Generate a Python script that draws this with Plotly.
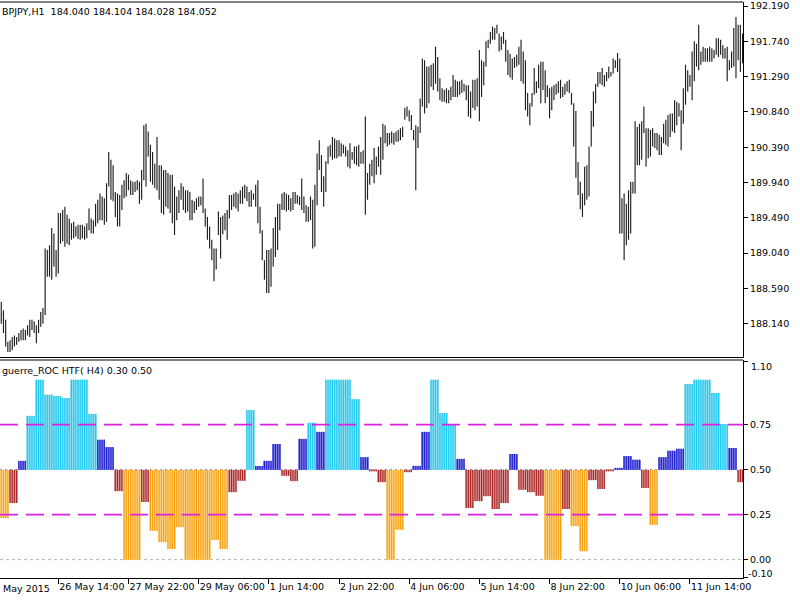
import plotly.graph_objects as go

# ---------------- data ----------------
# GBPJPY H1 bars, index 0 = 25 May 2015 12:00
high = [
    188.42, 188.31, 188.19, 187.91, 187.93, 187.97, 187.99, 187.97, 188.02, 188.06,
    188.08, 188.06, 188.12, 188.19, 188.19, 188.17, 188.12, 188.19, 188.29, 188.34,
    189.10, 189.08, 189.14, 189.36, 189.29, 189.08, 189.55, 189.55, 189.59, 189.63,
    189.53, 189.48, 189.42, 189.44, 189.38, 189.40, 189.40, 189.40, 189.38, 189.42,
    189.61, 189.48, 189.46, 189.67, 189.72, 189.80, 189.76, 189.74, 189.93, 190.33,
    190.23, 190.16, 189.82, 189.80, 189.78, 189.91, 189.97, 190.06, 190.04, 189.97,
    189.95, 189.95, 189.97, 189.95, 190.10, 190.67, 190.69, 190.59, 190.42, 190.33,
    190.18, 190.52, 190.16, 190.16, 190.10, 190.10, 190.06, 190.04, 190.04, 189.89,
    189.76, 189.84, 189.93, 189.89, 189.84, 189.84, 189.82, 189.72, 189.70, 189.74,
    189.76, 189.76, 189.99, 189.61, 189.50, 189.38, 189.21, 189.10, 189.10, 189.57,
    189.50, 189.52, 189.55, 189.59, 189.78, 189.78, 189.80, 189.82, 189.80, 189.84,
    189.89, 189.91, 189.89, 189.82, 189.84, 189.80, 189.91, 189.97, 189.63, 189.33,
    188.95, 189.08, 189.08, 189.10, 189.36, 189.50, 189.67, 189.67, 189.80, 189.82,
    189.80, 189.78, 189.74, 189.82, 189.82, 189.78, 189.76, 189.99, 189.76, 189.65,
    189.63, 189.76, 189.72, 189.91, 190.31, 190.48, 190.29, 190.02, 190.21, 190.40,
    190.42, 190.52, 190.50, 190.48, 190.48, 190.44, 190.42, 190.40, 190.35, 190.44,
    190.33, 190.40, 190.40, 190.42, 190.33, 190.35, 190.78, 190.06, 190.18, 190.23,
    190.38, 190.27, 190.40, 190.52, 190.69, 190.67, 190.57, 190.57, 190.59, 190.57,
    190.59, 190.61, 190.63, 190.65, 190.89, 190.91, 190.86, 190.80, 190.61, 190.67,
    190.65, 191.01, 191.52, 191.50, 191.42, 191.42, 191.44, 191.46, 191.67, 191.54,
    191.27, 191.14, 191.12, 191.14, 191.12, 191.16, 191.31, 191.25, 191.23, 191.23,
    191.25, 191.20, 191.18, 191.18, 191.10, 191.25, 191.25, 191.27, 191.63, 191.50,
    191.48, 191.74, 191.76, 191.86, 191.93, 191.91, 191.95, 191.84, 191.80, 191.86,
    191.76, 191.63, 191.58, 191.52, 191.54, 191.57, 191.67, 191.76, 191.61, 191.50,
    191.08, 190.95, 191.08, 191.40, 191.23, 191.44, 191.48, 191.48, 191.37, 191.18,
    191.14, 191.16, 191.18, 191.20, 191.23, 191.25, 191.16, 191.20, 191.23, 191.25,
    191.08, 190.95, 190.85, 190.20, 189.95, 189.80, 190.14, 190.16, 190.40, 190.85,
    191.10, 191.20, 191.35, 191.35, 191.40, 191.31, 191.35, 191.42, 191.35, 191.52,
    191.50, 191.59, 191.52, 189.74, 189.80, 189.67, 189.84, 189.95, 189.95, 190.72,
    190.65, 190.69, 190.72, 190.91, 190.63, 190.63, 190.61, 190.63, 190.57, 190.57,
    190.55, 190.52, 190.69, 190.74, 190.80, 190.82, 190.82, 190.99, 190.97, 190.95,
    190.86, 191.14, 191.44, 191.37, 191.31, 191.61, 191.74, 191.71, 191.95, 191.61,
    191.67, 191.65, 191.65, 191.67, 191.65, 191.63, 191.78, 191.78, 191.76, 191.69,
    191.65, 191.67, 191.50, 191.61, 191.91, 192.05, 191.95, 191.95, 191.84,
]
low = [
    188.14, 188.02, 187.85, 187.78, 187.78, 187.80, 187.85, 187.87, 187.91, 187.93,
    187.93, 187.93, 187.99, 187.97, 188.06, 188.02, 187.89, 188.02, 188.10, 188.14,
    188.25, 188.74, 188.74, 188.70, 188.87, 188.74, 188.78, 189.16, 189.19, 189.12,
    189.16, 189.14, 189.21, 189.23, 189.25, 189.22, 189.21, 189.23, 189.21, 189.23,
    189.33, 189.29, 189.29, 189.38, 189.42, 189.46, 189.46, 189.40, 189.44, 189.89,
    189.72, 189.70, 189.50, 189.38, 189.38, 189.59, 189.74, 189.76, 189.84, 189.78,
    189.78, 189.82, 189.84, 189.67, 189.72, 189.97, 189.89, 190.27, 189.95, 189.91,
    189.87, 189.84, 189.72, 189.55, 189.53, 189.63, 189.61, 189.55, 189.42, 189.27,
    189.46, 189.55, 189.72, 189.59, 189.55, 189.57, 189.46, 189.46, 189.55, 189.59,
    189.63, 189.65, 189.55, 189.38, 189.21, 189.10, 188.95, 188.68, 188.83, 189.27,
    188.97, 189.28, 189.33, 189.21, 189.48, 189.59, 189.63, 189.61, 189.57, 189.67,
    189.67, 189.74, 189.70, 189.63, 189.63, 189.72, 189.63, 189.42, 189.29, 188.95,
    188.70, 188.53, 188.53, 188.61, 188.87, 188.99, 189.08, 189.33, 189.59, 189.59,
    189.57, 189.59, 189.57, 189.59, 189.67, 189.67, 189.65, 189.59, 189.55, 189.44,
    189.44, 189.46, 189.10, 189.12, 189.65, 190.10, 189.82, 189.63, 189.82, 190.18,
    190.27, 190.23, 190.25, 190.25, 190.27, 190.27, 190.31, 190.27, 190.14, 190.12,
    190.23, 190.18, 190.16, 190.14, 190.18, 190.18, 189.53, 189.72, 189.91, 190.02,
    189.93, 190.04, 190.14, 190.04, 190.23, 190.44, 190.40, 190.42, 190.44, 190.42,
    190.46, 190.46, 190.48, 190.52, 190.74, 190.78, 190.72, 190.61, 190.48, 189.84,
    190.38, 190.57, 190.91, 190.82, 190.89, 190.95, 191.16, 191.12, 191.20, 191.10,
    190.99, 190.97, 190.97, 190.95, 190.95, 190.99, 191.03, 191.03, 191.03, 191.06,
    191.08, 191.10, 190.99, 190.78, 190.76, 190.89, 190.86, 190.91, 190.72, 191.03,
    191.18, 191.42, 191.65, 191.71, 191.76, 191.76, 191.84, 191.61, 191.63, 191.71,
    191.48, 191.31, 191.28, 191.25, 191.40, 191.42, 191.44, 191.23, 191.20, 190.86,
    190.78, 190.67, 190.91, 191.06, 191.08, 191.14, 190.95, 191.12, 190.95, 191.03,
    190.76, 190.86, 190.99, 191.06, 191.08, 191.01, 191.03, 191.06, 191.10, 191.08,
    190.93, 190.40, 190.00, 189.78, 189.60, 189.50, 189.65, 189.72, 189.76, 190.40,
    190.65, 190.95, 191.16, 191.20, 191.18, 191.16, 191.23, 191.27, 191.29, 191.33,
    191.40, 191.35, 189.29, 189.29, 188.95, 189.14, 189.21, 189.29, 189.80, 189.80,
    190.16, 190.16, 190.23, 190.57, 190.14, 190.25, 190.27, 190.40, 190.38, 190.35,
    190.29, 190.29, 190.44, 190.42, 190.40, 190.52, 190.59, 190.57, 190.67, 190.78,
    190.35, 190.69, 190.93, 191.10, 191.16, 190.99, 191.23, 191.42, 191.37, 191.44,
    191.48, 191.48, 191.48, 191.48, 191.48, 191.52, 191.57, 191.54, 191.57, 191.52,
    191.52, 191.23, 191.37, 191.40, 191.42, 191.27, 191.50, 191.35, 191.46,
]

# Laguerre ROC HTF(H4) values, one per H4 block (4 H1 bars each)
roc_h4 = [
    0.23, 0.315, 0.55, 0.80, 1.0, 0.917, 0.907, 0.898, 1.0, 1.0,
    0.81, 0.667, 0.624, 0.38, 0.0, 0.0, 0.32, 0.16, 0.096, 0.059,
    0.18, 0.0, 0.0, 0.0, 0.11, 0.059, 0.374, 0.439, 0.83, 0.52,
    0.55, 0.643, 0.467, 0.435, 0.672, 0.76, 0.71, 1.0, 1.0, 1.0,
    0.89, 0.568, 0.49, 0.43, 0.0, 0.167, 0.485, 0.522, 0.71, 1.0,
    0.815, 0.754, 0.561, 0.287, 0.324, 0.352, 0.281, 0.315, 0.587, 0.389,
    0.374, 0.356, 0.0, 0.0, 0.281, 0.185, 0.046, 0.441, 0.393, 0.49,
    0.51, 0.574, 0.556, 0.398, 0.194, 0.568, 0.606, 0.617, 0.976, 1.0,
    1.0, 0.926, 0.754, 0.62, 0.43,
]

price_ticks = [188.140, 188.590, 189.040, 189.490, 189.940,
               190.390, 190.840, 191.290, 191.740, 192.190]
time_tick_idx = [26, 58, 90, 122, 154, 186, 218, 250, 282, 314]
time_tick_labels = ["26 May 14:00", "27 May 22:00", "29 May 06:00", "1 Jun 14:00",
                    "2 Jun 22:00", "4 Jun 06:00", "5 Jun 14:00", "8 Jun 22:00",
                    "10 Jun 06:00", "11 Jun 14:00"]
roc_levels = [0.75, 0.25]

# ---------------- figure ----------------
FONT = "DejaVu Sans"
FS = 9.5
n = min(len(high), len(low))

# price bars as vertical segments low -> high
seg_x, seg_y = [], []
for i in range(n):
    seg_x += [i, i, None]
    seg_y += [low[i], high[i], None]

fig = go.Figure()
fig.add_trace(go.Scatter(
    x=seg_x, y=seg_y, mode="lines", line=dict(color="#1e1e1e", width=1.15),
    xaxis="x", yaxis="y", showlegend=False, hoverinfo="skip", connectgaps=False))

PALETTE = {
    "up_strong": ("#1ec8ee", "#8fe2f5"),
    "up": ("#2222cc", "#8282e8"),
    "down": ("#a62626", "#dc9c9c"),
    "down_strong": ("#f5a010", "#ffd68c"),
}


def category(v):
    if v >= 0.75:
        return "up_strong"
    if v >= 0.5:
        return "up"
    if v > 0.25:
        return "down"
    return "down_strong"


cats = [category(v) for v in roc_h4]

# H4 blocks (light fill)
fig.add_trace(go.Bar(
    x=[4 * k + 1.5 for k in range(len(roc_h4))],
    y=[v - 0.5 for v in roc_h4], base=0.5, width=4,
    marker=dict(color=[PALETTE[c][1] for c in cats], line=dict(width=0)),
    xaxis="x", yaxis="y2", showlegend=False, hoverinfo="skip"))

# H1 histogram lines drawn with the H4 value of their block
for cname, (main, _light) in PALETTE.items():
    sx, sy = [], []
    for k, v in enumerate(roc_h4):
        if cats[k] != cname:
            continue
        for i in range(4 * k, min(4 * k + 4, n)):
            sx += [i, i, None]
            sy += [0.5, v, None]
    fig.add_trace(go.Scatter(
        x=sx, y=sy, mode="lines", line=dict(color=main, width=1.1),
        xaxis="x", yaxis="y2", showlegend=False, hoverinfo="skip"))

BOT = 578.0
PH = 576.0


def fy(px):
    return (BOT - px) / PH


up_dom = [fy(357.5), 1.0]
lo_dom = [0.0, fy(360.0)]

shapes = []
for lv in roc_levels:
    shapes.append(dict(type="line", xref="paper", yref="y2", x0=0, x1=1, y0=lv, y1=lv,
                       line=dict(color="#dd22dd", width=1.6, dash="18px,8px"), layer="above"))
shapes.append(dict(type="line", xref="paper", yref="y2", x0=0, x1=1, y0=0.5, y1=0.5,
                   line=dict(color="#8888aa", width=1, dash="2px,3px"), layer="below"))
shapes.append(dict(type="line", xref="paper", yref="y2", x0=0, x1=1, y0=0.0, y1=0.0,
                   line=dict(color="#b0b0b0", width=1, dash="3px,3px"), layer="below"))
for yy in (1.0, up_dom[0], lo_dom[1]):
    shapes.append(dict(type="line", xref="paper", yref="paper", x0=0, x1=1, y0=yy, y1=yy,
                       line=dict(color="#000000", width=1)))

txt_font = dict(family=FONT, size=FS, color="#000000")
annotations = [
    dict(text="BPJPY,H1  184.040 184.104 184.028 184.052", xref="paper", yref="paper",
         x=0, y=fy(11.7), xanchor="left", yanchor="middle", xshift=0, showarrow=False,
         font=txt_font),
    dict(text="guerre_ROC HTF( H4) 0.30 0.50", xref="paper", yref="paper",
         x=0, y=fy(370.7), xanchor="left", yanchor="middle", xshift=0, showarrow=False,
         font=txt_font),
    dict(text="May 2015", xref="paper", yref="paper", x=0, y=fy(588.3),
         xanchor="left", yanchor="middle", xshift=1, showarrow=False, font=txt_font),
    dict(text="1.10", xref="paper", yref="y2", x=1, y=1.10, xanchor="left", yanchor="middle",
         xshift=6, yshift=-5, showarrow=False, font=txt_font),
    dict(text="-0.10", xref="paper", yref="y2", x=1, y=-0.10, xanchor="left", yanchor="middle",
         xshift=3, yshift=4, showarrow=False, font=txt_font),
]

fig.update_layout(
    width=800, height=600,
    margin=dict(l=0, r=57, t=2, b=22, autoexpand=False),
    paper_bgcolor="white", plot_bgcolor="white",
    barmode="overlay", bargap=0,
    font=txt_font,
    showlegend=False,
    xaxis=dict(domain=[0, 1], anchor="y2", range=[-0.58, 338.2],
               tickvals=time_tick_idx, ticktext=time_tick_labels,
               tickangle=0, automargin=False,
               ticks="outside", ticklen=5, tickcolor="#000000",
               ticklabelposition="outside right",
               showline=True, linecolor="#000000", linewidth=1,
               showgrid=False, zeroline=False, fixedrange=True),
    yaxis=dict(domain=up_dom, anchor="x", side="right", automargin=False,
               range=[187.709, 192.241],
               tickvals=price_ticks, ticktext=[f"{v:.3f}" for v in price_ticks],
               ticks="outside", ticklen=4, tickcolor="#000000",
               showline=True, linecolor="#000000", linewidth=1,
               showgrid=False, zeroline=False),
    yaxis2=dict(domain=lo_dom, anchor="x", side="right", automargin=False,
                range=[-0.102, 1.109],
                tickvals=[1.10, 0.75, 0.50, 0.25, 0.00, -0.10],
                ticktext=["", "0.75", "0.50", "0.25", "0.00", ""],
                ticks="outside", ticklen=4, tickcolor="#000000",
                showline=True, linecolor="#000000", linewidth=1,
                showgrid=False, zeroline=False),
    shapes=shapes,
    annotations=annotations,
)

fig.write_html("out.html")
